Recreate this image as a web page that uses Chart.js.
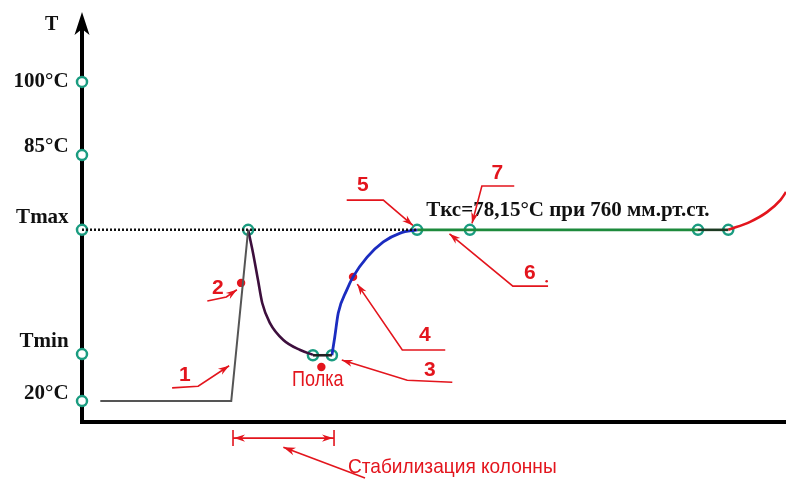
<!DOCTYPE html>
<html>
<head>
<meta charset="utf-8">
<script src="https://cdn.jsdelivr.net/npm/chart.js@4.4.1/dist/chart.umd.min.js"></script>
<style>
  html, body { margin: 0; padding: 0; background: #fff; }
  canvas { display: block; }
</style>
</head>
<body>
<canvas id="chart" width="786" height="480"></canvas>
<script>
// schematic temperature axis (arbitrary units, 0..100)
const yTickValues = [5.2, 16.9, 47.8, 66.4, 84.6];
const yTickLabels = ["20°C", "Tmin", "Tmax", "85°C", "100°C"];
const T_MAX = 47.8;

// 1: heating of the cube
const heatX = [2.6, 21.2, 23.6];
const heatY = [5.2, 5.2, 47.8];
// cooling down after the first vapour
const coolX = [23.6, 24.3, 25.0, 25.6, 26.7, 28.6, 31.0, 32.8];
const coolY = [47.8, 42.0, 35.3, 29.6, 24.6, 20.4, 17.9, 16.7];
// "полка"
const shelfX = [32.8, 35.5];
const shelfY = [16.6, 16.6];
// 4: rising to Tmax
const riseX = [35.5, 35.9, 36.4, 37.6, 38.5, 40.5, 42.8, 45.2, 47.6];
const riseY = [16.6, 21.1, 27.1, 32.8, 36.1, 41.0, 44.8, 47.0, 47.8];
// body collection
const bodyX = [47.6, 87.5];
const bodyY = [47.8, 47.8];
const tailX = [87.5, 91.8];
const tailY = [47.8, 47.8];
// tails
const endX = [91.8, 94.9, 97.3, 99.2, 100];
const endY = [47.8, 49.8, 52.2, 55.2, 57.2];

// hollow markers along the curve
const ringX = [23.6, 32.8, 35.5, 47.6, 55.1, 87.5, 91.8];
const ringY = [47.8, 16.6, 16.6, 47.8, 47.8, 47.8, 47.8];
// red dots: 2, 4, полка
const dotX = [22.6, 38.5, 34.0];
const dotY = [34.6, 36.1, 13.7];

const pts = (xs, ys) => xs.map((x, i) => ({ x, y: ys[i] }));

// numbered call-outs: label, text pos, leader path (data units)
const CALLOUTS = [
  { t: "1", at: [14.6, 11.7], path: [[12.8, 8.5], [16.5, 8.9], [20.9, 14.0]] },
  { t: "2", at: [19.3, 33.3], path: [[17.8, 30.1], [20.5, 31.1], [22.0, 32.9]] },
  { t: "3", at: [49.4, 12.9], path: [[52.6, 9.9], [46.2, 10.4], [36.9, 15.4]] },
  { t: "4", at: [48.7, 21.6], path: [[51.6, 17.9], [45.5, 17.9], [39.1, 34.3]] },
  { t: "5", at: [39.9, 59.0], path: [[37.6, 55.2], [42.8, 55.2], [47.0, 48.9]] },
  { t: "6", at: [63.6, 37.1], path: [[66.2, 33.8], [61.2, 33.8], [52.2, 46.8]] },
  { t: "7", at: [59.0, 61.9], path: [[61.4, 58.7], [56.8, 58.7], [55.4, 49.4]] },
];

const RED = "#e3151d";
const RING = "#1a9c80";

function line(data, color, width, extra) {
  return Object.assign({
    data, showLine: true, borderColor: color, borderWidth: width,
    pointRadius: 0, fill: false, tension: 0.4, cubicInterpolationMode: "monotone",
  }, extra || {});
}
const straight = (extra) => Object.assign({ tension: 0, cubicInterpolationMode: "default" }, extra || {});

function arrowHead(ctx, x0, y0, x1, y1, len, half) {
  const a = Math.atan2(y1 - y0, x1 - x0);
  ctx.beginPath();
  ctx.moveTo(x1, y1);
  ctx.lineTo(x1 - len * Math.cos(a) + half * Math.sin(a), y1 - len * Math.sin(a) - half * Math.cos(a));
  ctx.lineTo(x1 - len * Math.cos(a) * 0.7, y1 - len * Math.sin(a) * 0.7);
  ctx.lineTo(x1 - len * Math.cos(a) - half * Math.sin(a), y1 - len * Math.sin(a) + half * Math.cos(a));
  ctx.closePath();
  ctx.fill();
}

// narrow sans text: regular sans squeezed horizontally
function narrowText(ctx, text, x, y, sx) {
  ctx.save();
  ctx.translate(x, y);
  ctx.scale(sx, 1);
  ctx.fillText(text, 0, 0);
  ctx.restore();
}

const schemePlugin = {
  id: "scheme",
  beforeDatasetsDraw(chart) {
    const { ctx, scales: { x, y } } = chart;
    const x0 = x.getPixelForValue(0);
    const yb = y.getPixelForValue(0);
    ctx.save();
    ctx.strokeStyle = "#000";
    ctx.fillStyle = "#000";
    ctx.lineWidth = 4;
    ctx.beginPath();
    ctx.moveTo(x0, yb + 2);
    ctx.lineTo(x0, y.getPixelForValue(98));
    ctx.moveTo(x0 - 2, yb);
    ctx.lineTo(chart.width, yb);
    ctx.stroke();
    // arrow on T axis
    const tip = y.getPixelForValue(102);
    ctx.beginPath();
    ctx.moveTo(x0, tip);
    ctx.lineTo(x0 - 7.5, tip + 23);
    ctx.lineTo(x0, tip + 17);
    ctx.lineTo(x0 + 7.5, tip + 23);
    ctx.closePath();
    ctx.fill();
    ctx.restore();
  },
  afterDraw(chart) {
    const { ctx, scales: { x, y } } = chart;
    const px = (v) => x.getPixelForValue(v);
    const py = (v) => y.getPixelForValue(v);
    ctx.save();

    // axis labels
    ctx.fillStyle = "#111";
    ctx.font = "bold 20px 'Liberation Serif', serif";
    ctx.textAlign = "center";
    ctx.textBaseline = "middle";
    ctx.fillText("T", px(-4.3), py(98.8));
    ctx.font = "bold 21px 'Liberation Serif', serif";
    const lift = [8, 12, 12, 8, 0];
    ctx.textAlign = "right";
    yTickValues.forEach((v, i) => {
      ctx.fillText(yTickLabels[i], px(-1.9), py(v) - lift[i]);
    });

    ctx.font = "bold 21px 'Liberation Serif', serif";
    ctx.textAlign = "left";
    ctx.fillText("Tкс=78,15°C при 760 мм.рт.ст.", px(48.9), py(52.7));

    // call-outs
    ctx.strokeStyle = RED;
    ctx.fillStyle = RED;
    ctx.lineWidth = 1.6;
    CALLOUTS.forEach((c) => {
      const p = c.path.map(([a, b]) => [px(a), py(b)]);
      ctx.beginPath();
      ctx.moveTo(p[0][0], p[0][1]);
      for (let i = 1; i < p.length; i++) ctx.lineTo(p[i][0], p[i][1]);
      ctx.stroke();
      const n = p.length;
      arrowHead(ctx, p[n - 2][0], p[n - 2][1], p[n - 1][0], p[n - 1][1], 11, 3.6);
    });
    ctx.font = "bold 21px 'Liberation Sans', Arial, sans-serif";
    ctx.textAlign = "center";
    CALLOUTS.forEach((c) => ctx.fillText(c.t, px(c.at[0]), py(c.at[1])));
    ctx.beginPath();
    ctx.arc(px(66.0), py(35.0), 1.3, 0, Math.PI * 2);
    ctx.fill();

    // полка
    ctx.font = "22px 'Liberation Sans', sans-serif";
    narrowText(ctx, "Полка", px(33.5), py(10.4), 0.82);

    // column stabilisation span
    const ya = py(-4.0);
    const xa = px(21.45), xb = px(35.8);
    ctx.beginPath();
    ctx.moveTo(xa, ya);
    ctx.lineTo(xb, ya);
    ctx.moveTo(xa, py(-2.0));
    ctx.lineTo(xa, py(-6.0));
    ctx.moveTo(xb, py(-2.0));
    ctx.lineTo(xb, py(-6.0));
    ctx.stroke();
    arrowHead(ctx, xa + 20, ya, xa + 1, ya, 11, 3.6);
    arrowHead(ctx, xb - 20, ya, xb - 1, ya, 11, 3.6);
    ctx.beginPath();
    ctx.moveTo(px(40.2), py(-13.9));
    ctx.lineTo(px(28.6), py(-6.3));
    ctx.stroke();
    arrowHead(ctx, px(40.2), py(-13.9), px(28.6), py(-6.3), 12, 4);
    ctx.font = "21px 'Liberation Sans', sans-serif";
    narrowText(ctx, "Стабилизация колонны", px(52.6), py(-11.2), 0.91);

    ctx.restore();
  },
};

new Chart(document.getElementById("chart"), {
  type: "scatter",
  data: {
    datasets: [
      line([{ x: 0, y: T_MAX }, { x: 47.6, y: T_MAX }], "#111", 2.5, straight({ borderDash: [2, 2] })),
      line(pts(heatX, heatY), "#555", 2, straight()),
      line(pts(coolX, coolY), "#3d0f3d", 2.6),
      line(pts(shelfX, shelfY), "#222", 2.6, straight()),
      line(pts(riseX, riseY), "#1b2cc0", 2.8),
      line(pts(bodyX, bodyY), "#1d8a3c", 2.8, straight()),
      line(pts(tailX, tailY), "#1c3a22", 2.6, straight()),
      line(pts(endX, endY), "#e3151d", 2.6),
      {
        data: yTickValues.map((v) => ({ x: 0, y: v })).concat(pts(ringX, ringY)),
        pointRadius: 5, pointBorderWidth: 2.5, pointBorderColor: RING,
        pointBackgroundColor: "#fff", showLine: false,
      },
      {
        data: pts(dotX, dotY),
        pointRadius: 4.2, pointBorderWidth: 0, pointBackgroundColor: RED, showLine: false,
      },
    ],
  },
  options: {
    responsive: false,
    animation: false,
    devicePixelRatio: 1,
    clip: false,
    layout: { autoPadding: false, padding: { left: 82, right: 0, top: 20, bottom: 58 } },
    plugins: { legend: { display: false }, tooltip: { enabled: false } },
    scales: {
      x: { type: "linear", min: 0, max: 100, display: false },
      y: { type: "linear", min: 0, max: 100, display: false },
    },
  },
  plugins: [schemePlugin],
});
</script>
</body>
</html>
